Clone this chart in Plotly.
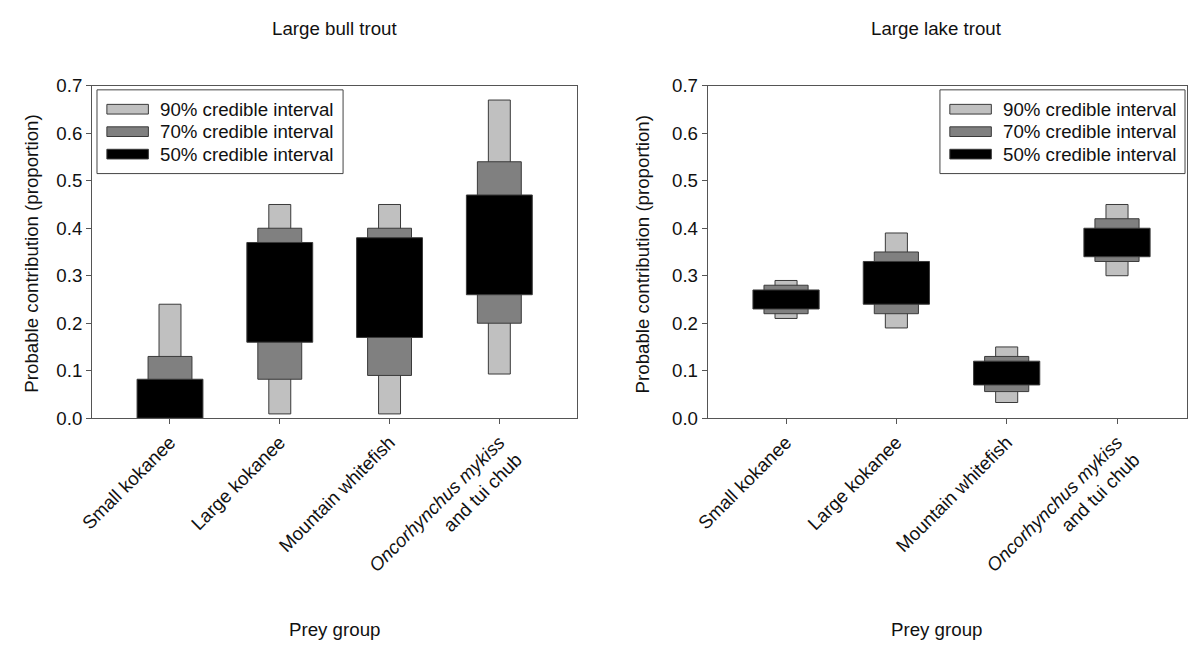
import plotly.graph_objects as go

# ---------------- data ----------------
categories = ["Small kokanee", "Large kokanee", "Mountain whitefish",
              "<i>Oncorhynchus mykiss</i><br>and tui chub"]
panel_titles = ["Large bull trout", "Large lake trout"]
interval_names = ["90% credible interval", "70% credible interval", "50% credible interval"]
interval_colors = ["#c0c0c0", "#808080", "#000000"]
interval_widths = [0.2, 0.4, 0.6]

# Large bull trout
bull_90_lo = [0.000, 0.009, 0.009, 0.093]
bull_90_hi = [0.240, 0.450, 0.450, 0.670]
bull_70_lo = [0.000, 0.082, 0.090, 0.200]
bull_70_hi = [0.130, 0.400, 0.400, 0.540]
bull_50_lo = [0.000, 0.160, 0.170, 0.260]
bull_50_hi = [0.082, 0.370, 0.380, 0.470]

# Large lake trout
lake_90_lo = [0.210, 0.190, 0.033, 0.300]
lake_90_hi = [0.290, 0.390, 0.150, 0.450]
lake_70_lo = [0.220, 0.220, 0.056, 0.330]
lake_70_hi = [0.280, 0.350, 0.130, 0.420]
lake_50_lo = [0.230, 0.240, 0.070, 0.340]
lake_50_hi = [0.270, 0.330, 0.120, 0.400]

y_ticks = [0.0, 0.1, 0.2, 0.3, 0.4, 0.5, 0.6, 0.7]

# ---------------- figure ----------------
W, H = 1188, 655
FONT = "Liberation Sans, Arial, sans-serif"
FS = 18.7
TXT = "#111111"


def px_x(p):
    return p / W


def px_y(p):
    return 1 - p / H


fig = go.Figure()

panels = [
    ("x", "y", [(bull_90_lo, bull_90_hi), (bull_70_lo, bull_70_hi), (bull_50_lo, bull_50_hi)]),
    ("x2", "y2", [(lake_90_lo, lake_90_hi), (lake_70_lo, lake_70_hi), (lake_50_lo, lake_50_hi)]),
]
for xa, ya, series in panels:
    for (lo, hi), name, col, wd in zip(series, interval_names, interval_colors, interval_widths):
        fig.add_trace(go.Bar(
            x=categories, y=[h - l for l, h in zip(lo, hi)], base=lo,
            width=wd, name=name, showlegend=False,
            marker=dict(color=col, line=dict(color="#3a3a3a", width=1)),
            xaxis=xa, yaxis=ya, hoverinfo="skip",
        ))

y_dom = [px_y(421.7), px_y(78.3)]
axis_line = dict(showline=True, linecolor="#555555", linewidth=1, mirror=True,
                 ticks="outside", ticklen=5, tickcolor="#555555",
                 showgrid=False, zeroline=False,
                 tickfont=dict(family=FONT, size=FS, color=TXT))

fig.update_layout(
    width=W, height=H, barmode="overlay", autosize=False,
    margin=dict(l=0, r=0, t=0, b=0),
    paper_bgcolor="white", plot_bgcolor="white",
    font=dict(family=FONT, size=FS, color=TXT),
    xaxis=dict(domain=[px_x(80), px_x(571)], range=[-0.71, 3.71], anchor="y",
               tickangle=-45, **axis_line),
    yaxis=dict(domain=y_dom, range=[0, 0.7], tickvals=y_ticks, tickformat=".1f",
               anchor="x", **axis_line),
    xaxis2=dict(domain=[px_x(703), px_x(1187.5)], range=[-0.71, 3.63], anchor="y2",
                tickangle=-45, **axis_line),
    yaxis2=dict(domain=y_dom, range=[0, 0.7], tickvals=y_ticks, tickformat=".1f",
                anchor="x2", **axis_line),
)

ann = []
shapes = []
# panel titles, x titles, y titles
for cx, title, ytx in [(325.5, panel_titles[0], 19), (935, panel_titles[1], 637)]:
    ann.append(dict(text=title, x=px_x(cx), y=px_y(19), xref="paper", yref="paper",
                    xanchor="center", yanchor="middle", showarrow=False,
                    font=dict(family=FONT, size=FS, color=TXT)))
    ann.append(dict(text="Prey group", x=px_x(cx), y=px_y(640), xref="paper", yref="paper",
                    xanchor="center", yanchor="middle", showarrow=False,
                    font=dict(family=FONT, size=FS, color=TXT)))
    ann.append(dict(text="Probable contribution (proportion)", x=px_x(ytx), y=px_y(252),
                    xref="paper", yref="paper", textangle=-90, showarrow=False,
                    xanchor="center", yanchor="middle",
                    font=dict(family=FONT, size=FS, color=TXT)))

# legends (box, swatches, labels)
for bx0, bx1, sx0 in [(85, 334, 95), (938, 1186, 948)]:
    shapes.append(dict(type="rect", xref="paper", yref="paper",
                       x0=px_x(bx0), x1=px_x(bx1), y0=px_y(169), y1=px_y(82.5),
                       line=dict(color="#444444", width=1), fillcolor="white", layer="above"))
    for i, (name, col) in enumerate(zip(interval_names, interval_colors)):
        cy = 102.5 + i * 23.2
        shapes.append(dict(type="rect", xref="paper", yref="paper",
                           x0=px_x(sx0), x1=px_x(sx0 + 42), y0=px_y(cy + 5), y1=px_y(cy - 5),
                           line=dict(color="#3a3a3a", width=1), fillcolor=col, layer="above"))
        ann.append(dict(text=name, x=px_x(sx0 + 52), y=px_y(cy), xref="paper", yref="paper",
                        xanchor="left", yanchor="middle", showarrow=False,
                        font=dict(family=FONT, size=FS, color=TXT)))

fig.update_layout(annotations=ann, shapes=shapes)

# remove the browser's default 8px body margin so the figure fills the window exactly
fig.write_html(
    "out.html",
    config={"displayModeBar": False, "staticPlot": True},
    post_script="document.body.style.margin='0';"
                "document.documentElement.style.overflow='hidden';"
                "document.body.style.overflow='hidden';",
)
